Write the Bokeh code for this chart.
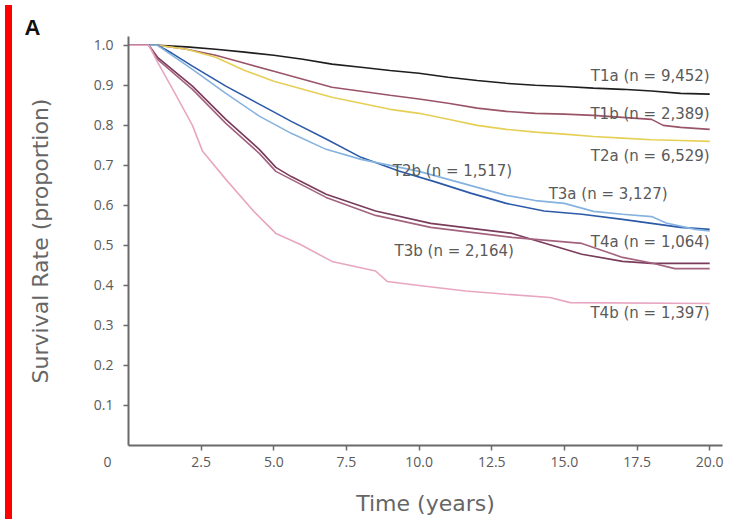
from bokeh.plotting import figure
from bokeh.models import FixedTicker, PrintfTickFormatter, Label, Div, Range1d, Title
from bokeh.layouts import row
from bokeh.embed import file_html
from bokeh.resources import INLINE

# ---- data ----
t1a_t = [0, 1.0, 2.0, 3.0, 4.0, 5.0, 6.0, 7.0, 8.0, 9.0, 10.0, 11.0, 12.0, 13.0, 14.0, 15.0, 16.0, 17.0, 18.0, 19.0, 20.0]
t1a_s = [1.0, 1.0, 0.996, 0.99, 0.983, 0.975, 0.965, 0.953, 0.945, 0.937, 0.93, 0.92, 0.912, 0.905, 0.9, 0.897, 0.893, 0.89, 0.886, 0.88, 0.878]

t1b_t = [0, 1.0, 2.0, 3.0, 4.0, 5.0, 6.0, 7.0, 8.0, 9.0, 10.0, 11.0, 12.0, 13.0, 14.0, 15.0, 16.0, 17.0, 18.0, 18.4, 19.0, 20.0]
t1b_s = [1.0, 1.0, 0.99, 0.975, 0.955, 0.935, 0.915, 0.895, 0.885, 0.875, 0.866, 0.855, 0.843, 0.835, 0.83, 0.828, 0.825, 0.82, 0.815, 0.80, 0.795, 0.79]

t2a_t = [0, 1.0, 2.0, 3.0, 4.0, 5.0, 6.0, 7.0, 8.0, 9.0, 10.0, 11.0, 12.0, 13.0, 14.0, 15.0, 16.0, 17.0, 18.0, 19.0, 20.0]
t2a_s = [1.0, 1.0, 0.99, 0.97, 0.937, 0.91, 0.89, 0.87, 0.855, 0.84, 0.83, 0.815, 0.80, 0.79, 0.783, 0.778, 0.772, 0.768, 0.764, 0.762, 0.76]

t2b_t = [0, 1.0, 1.5, 2.2, 3.35, 4.5, 5.6, 6.8, 8.0, 9.3, 10.5, 11.8, 13.0, 14.3, 15.6, 17.0, 18.0, 19.0, 20.0]
t2b_s = [1.0, 1.0, 0.98, 0.948, 0.898, 0.853, 0.81, 0.766, 0.72, 0.686, 0.66, 0.63, 0.605, 0.586, 0.578, 0.565, 0.555, 0.545, 0.54]

t3a_t = [0, 1.0, 1.5, 2.2, 3.35, 4.5, 5.6, 6.8, 8.0, 9.0, 10.0, 11.0, 12.0, 13.0, 14.0, 15.0, 16.0, 17.0, 18.0, 18.5, 19.5, 20.0]
t3a_s = [1.0, 1.0, 0.975, 0.94, 0.88, 0.823, 0.78, 0.74, 0.715, 0.70, 0.685, 0.665, 0.645, 0.625, 0.612, 0.605, 0.585, 0.578, 0.572, 0.556, 0.54, 0.536]

t3b_t = [0, 0.7, 1.0, 2.2, 3.35, 4.5, 5.07, 5.6, 6.8, 8.5, 10.4, 13.2, 15.6, 17.0, 18.0, 20.0]
t3b_s = [1.0, 1.0, 0.97, 0.898, 0.815, 0.74, 0.695, 0.672, 0.628, 0.586, 0.555, 0.53, 0.478, 0.46, 0.455, 0.455]

t4a_t = [0, 0.7, 1.0, 2.2, 3.35, 4.5, 5.07, 5.6, 6.8, 8.5, 10.4, 13.2, 15.6, 17.0, 18.0, 18.8, 20.0]
t4a_s = [1.0, 1.0, 0.965, 0.89, 0.805, 0.73, 0.685, 0.665, 0.62, 0.575, 0.545, 0.52, 0.505, 0.47, 0.456, 0.442, 0.442]

t4b_t = [0, 0.7, 1.0, 1.6, 2.2, 2.55, 3.35, 4.3, 5.07, 5.9, 7.0, 8.5, 8.9, 10.0, 11.6, 13.0, 14.5, 15.2, 20.0]
t4b_s = [1.0, 1.0, 0.958, 0.88, 0.80, 0.735, 0.665, 0.586, 0.53, 0.503, 0.46, 0.436, 0.41, 0.40, 0.386, 0.378, 0.37, 0.357, 0.355]

series_names = ["T1a", "T1b", "T2a", "T2b", "T3a", "T3b", "T4a", "T4b"]
series_n = ["9,452", "2,389", "6,529", "1,517", "3,127", "2,164", "1,064", "1,397"]
series_t = [t1a_t, t1b_t, t2a_t, t2b_t, t3a_t, t3b_t, t4a_t, t4b_t]
series_s = [t1a_s, t1b_s, t2a_s, t2b_s, t3a_s, t3b_s, t4a_s, t4b_s]
series_colors = ["#1e1e1e", "#9a5468", "#e6cf55", "#2c5aa8", "#86b2e0", "#7a3c5c", "#a3627e", "#e8a6c0"]

# label anchor (right edge x, centre y) for each series label
label_x = [20.0, 20.0, 20.0, 13.2, 18.55, 13.26, 20.0, 20.0]
label_y = [0.923, 0.828, 0.723, 0.686, 0.628, 0.486, 0.509, 0.332]

y_ticks = [0.1, 0.2, 0.3, 0.4, 0.5, 0.6, 0.7, 0.8, 0.9, 1.0]
x_ticks = [2.5, 5.0, 7.5, 10.0, 12.5, 15.0, 17.5, 20.0]

TICK_FONT = "Open Sans"
TEXT_FONT = "DejaVu Sans"
GREY = "#5a5a5a"

p = figure(width=713, height=518, output_backend="svg", toolbar_location=None,
           x_range=Range1d(0, 20.44), y_range=Range1d(0, 1.022),
           min_border_left=111, min_border_right=8, min_border_top=36, min_border_bottom=73,
           background_fill_color="white", border_fill_color="white")
p.outline_line_color = None
p.grid.visible = False

for t, s, c in zip(series_t, series_s, series_colors):
    p.line(t, s, line_color=c, line_width=1.6)

for name, n, x, y in zip(series_names, series_n, label_x, label_y):
    p.add_layout(Label(x=x, y=y, text=f"{name} (n = {n})", text_align="right",
                       text_baseline="middle", text_font=TEXT_FONT, text_font_size="15px",
                       text_color=GREY))

for ax in (p.xaxis[0], p.yaxis[0]):
    ax.axis_line_color = "#6a6a6a"
    ax.axis_line_width = 2
    ax.major_tick_line_color = "#6a6a6a"
    ax.major_tick_line_width = 1.5
    ax.major_tick_out = 5
    ax.major_tick_in = 0
    ax.minor_tick_line_color = None
    ax.major_label_text_font = TICK_FONT
    ax.major_label_text_font_size = "14px"
    ax.major_label_text_color = GREY
    ax.axis_label_text_font = TEXT_FONT
    ax.axis_label_text_font_size = "22px"
    ax.axis_label_text_color = "#666666"
    ax.axis_label_text_font_style = "normal"

p.yaxis.ticker = FixedTicker(ticks=y_ticks)
p.yaxis.formatter = PrintfTickFormatter(format="%.1f")
p.yaxis.axis_label = "Survival Rate (proportion)"
p.yaxis.axis_label_standoff = 38
p.yaxis.major_label_standoff = 10

p.xaxis.ticker = FixedTicker(ticks=x_ticks)
p.xaxis.formatter = PrintfTickFormatter(format="%.1f")
p.xaxis.axis_label = "Time (years)"
p.xaxis.axis_label_standoff = 21
p.xaxis.major_label_standoff = 6

# panel letter as a title pushed to the left
p.title = Title(text="A", align="left", offset=-104, text_font="Liberation Sans",
                text_font_size="22px", text_font_style="bold", text_color="#111111",
                standoff=-6)

# origin label as a title in the bottom panel, pulled up beside the first tick label
p.add_layout(Title(text="0", align="left", vertical_align="top", offset=-25, standoff=-124,
                   text_font=TICK_FONT, text_font_size="14px", text_font_style="normal",
                   text_color=GREY), "below")

bar = Div(width=7, height=514, styles={"background-color": "#ff0000"})
layout = row(bar, p, spacing=0)

open("out.html", "w").write(file_html(layout, INLINE))
